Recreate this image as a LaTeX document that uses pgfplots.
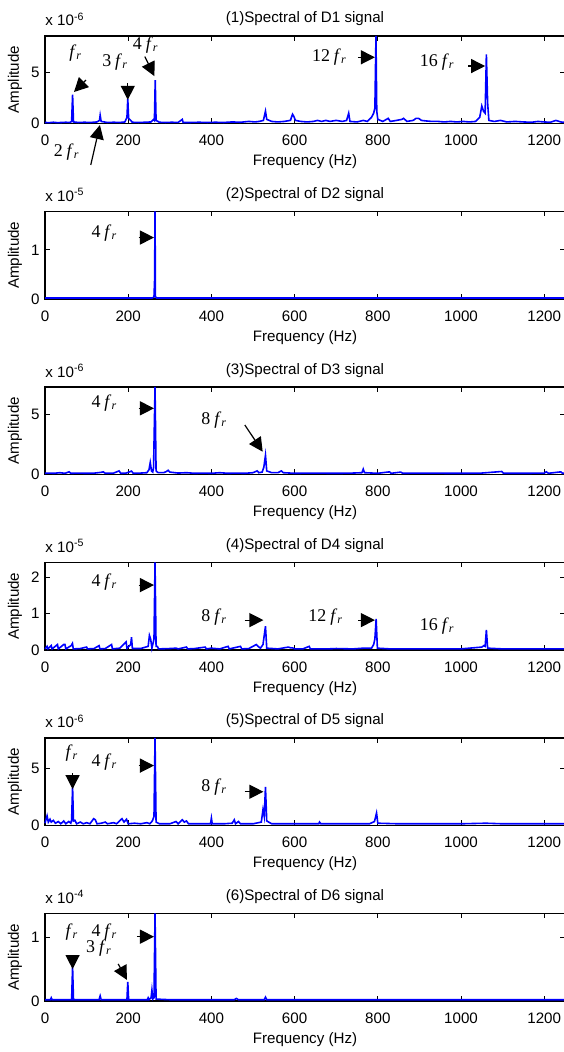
\documentclass[border=0pt]{standalone}
\usepackage{fontspec}
\setmainfont{Liberation Sans}
\newfontfamily\tnr{Liberation Serif}
\usepackage{pgfplots}
\pgfplotsset{compat=1.18}
\usetikzlibrary{arrows.meta}

\newcommand{\fr}[1]{{\fontsize{9}{10}\tnr #1\hspace{0.22em}\textit{f}\textsubscript{\textit{r}}}}
\newcommand{\frr}{{\fontsize{9}{10}\tnr \textit{f}\textsubscript{\textit{r}}}}

\pgfplotsset{
  spec/.style={
    scale only axis, width=260bp, height=43.75bp,
    anchor=south west,
    xmin=0, xmax=1250, ymin=0,
    xtick={0,200,...,1200},
    tick align=inside, major tick length=2.5bp,
    axis line style={line width=0.6bp},
    every tick/.style={black, line width=0.5bp},
    tick label style={font=\fontsize{7.6}{8.5}\selectfont},
    /pgf/number format/assume math mode=true,
    /pgf/number format/1000 sep={},
    xticklabel style={anchor=base, yshift=-11.1bp},
    yticklabel style={anchor=east, inner sep=0pt, xshift=-2.5bp},
    clip=false,
  },
  sig/.style={color={rgb,255:red,0;green,0;blue,255}, line width=0.8bp, no marks},
}
\tikzset{
  ttl/.style={anchor=base, yshift=6.5bp, inner sep=0pt, font=\fontsize{7.6}{8.5}\selectfont},
  expo/.style={anchor=base west, yshift=5bp, inner sep=0pt, font=\fontsize{7.6}{8.5}\selectfont},
  xlab/.style={anchor=base, yshift=-21.1bp, inner sep=0pt, font=\fontsize{7.6}{8.5}\selectfont},
  ylab/.style={rotate=90, anchor=center, inner sep=0pt, font=\fontsize{7.6}{8.5}\selectfont},
  ann/.style={anchor=center, inner sep=0pt},
  arr/.style={-{Triangle[length=7bp,width=7bp]}, line width=0.6bp, black},
}

\begin{document}
\begin{tikzpicture}

% ---------- Panel 1 ----------
\begin{axis}[spec, at={(22.5bp,464.25bp)}, ymax=8.5, ytick={0,5}]
\addplot[sig] coordinates {(0,0.1) (10,0.08) (20,0.12) (30,0.08) (40,0.1) (50,0.12) (60,0.1) (64,0.2) (66.3,2.8) (68.5,0.15) (80,0.1) (95,0.12) (110,0.1) (125,0.15) (131,0.3) (132.6,0.8) (135,0.2) (150,0.1) (165,0.12) (180,0.1) (192,0.15) (197,0.6) (199,2.4) (201,0.5) (210,0.12) (225,0.1) (240,0.12) (255,0.15) (261,0.4) (263,0.3) (265,4.2) (267,0.3) (275,0.12) (290,0.1) (305,0.12) (320,0.1) (330,0.4) (332,0.1) (350,0.1) (370,0.12) (390,0.1) (410,0.12) (430,0.1) (450,0.15) (470,0.12) (490,0.2) (505,0.15) (515,0.2) (525,0.3) (530,1.2) (533,0.4) (545,0.2) (560,0.15) (575,0.2) (590,0.3) (595,0.9) (598,0.7) (602,0.3) (615,0.2) (630,0.15) (645,0.2) (655,0.3) (665,0.2) (675,0.3) (685,0.2) (700,0.3) (715,0.2) (725,0.3) (730,1.0) (733,0.2) (750,0.15) (765,0.3) (775,0.2) (785,0.6) (790,1.0) (793,1.5) (795.6,8.5) (797.5,1.2) (800,0.4) (812,0.2) (825,0.5) (830,0.2) (845,0.3) (858,0.4) (862,0.5) (870,0.2) (885,0.3) (892,0.5) (898,0.5) (905,0.3) (915,0.25) (930,0.2) (945,0.2) (960,0.15) (975,0.2) (990,0.15) (1005,0.2) (1020,0.15) (1035,0.2) (1045,0.6) (1050,1.7) (1054,1.2) (1058,1.0) (1061,6.7) (1064,2.0) (1067,0.3) (1080,0.2) (1095,0.3) (1110,0.15) (1130,0.2) (1150,0.15) (1170,0.12) (1185,0.2) (1200,0.15) (1215,0.12) (1228,0.3) (1240,0.15) (1250,0.1)};
\node[ttl] at (rel axis cs:0.5,1) {(1)Spectral of D1 signal};
\node[expo] at (rel axis cs:0,1) {x 10\textsuperscript{-6}};
\node[ylab] at ([xshift=-15bp]rel axis cs:0,0.5) {Amplitude};
\node[xlab] at (rel axis cs:0.5,0) {Frequency (Hz)};
\node[ann] at (axis cs:74,6.85) {\frr};
\draw[arr] (axis cs:98.5,4.22) -- (axis cs:69.7,3.06);
\node[ann] at (axis cs:52,-2.77) {\fr{2}};
\draw[arr] (axis cs:110,-4.03) -- (axis cs:132,-0.15);
\node[ann] at (axis cs:168.6,6.0) {\fr{3}};
\draw[arr] (axis cs:199,3.9) -- (axis cs:199,2.3);
\node[ann] at (axis cs:242,7.62) {\fr{4}};
\draw[arr] (axis cs:240,6.5) -- (axis cs:263,4.6);
\node[ann] at (axis cs:683.6,6.49) {\fr{12}};
\draw[arr] (axis cs:752,6.43) -- (axis cs:793,6.43);
\node[ann] at (axis cs:943,6.0) {\fr{16}};
\draw[arr] (axis cs:1018,5.58) -- (axis cs:1058,5.58);
\end{axis}

% ---------- Panel 2 ----------
\begin{axis}[spec, at={(22.5bp,376.5bp)}, ymax=1.78, ytick={0,1}]
\addplot[sig] coordinates {(0,0.02) (100,0.02) (200,0.02) (258,0.02) (262,0.04) (263.5,0.4) (264.5,1.78) (265.5,0.05) (268,0.02) (400,0.02) (600,0.02) (800,0.02) (1000,0.02) (1250,0.02)};
\node[ttl] at (rel axis cs:0.5,1) {(2)Spectral of D2 signal};
\node[expo] at (rel axis cs:0,1) {x 10\textsuperscript{-5}};
\node[ylab] at ([xshift=-15bp]rel axis cs:0,0.5) {Amplitude};
\node[xlab] at (rel axis cs:0.5,0) {Frequency (Hz)};
\node[ann] at (axis cs:142.7,1.336) {\fr{4}};
\draw[arr] (axis cs:224.8,1.25) -- (axis cs:262,1.25);
\end{axis}

% ---------- Panel 3 ----------
\begin{axis}[spec, at={(22.5bp,288.75bp)}, ymax=7.3, ytick={0,5}]
\addplot[sig] coordinates {(0,0.1) (10,0.12) (22,0.1) (35,0.15) (48,0.1) (58,0.22) (62,0.1) (80,0.12) (100,0.1) (120,0.12) (135,0.18) (140,0.22) (145,0.1) (165,0.12) (178,0.3) (182,0.1) (195,0.12) (208,0.28) (212,0.1) (230,0.12) (245,0.15) (250,0.4) (253,1.0) (256,0.3) (259,0.2) (261,0.6) (264.5,7.3) (267,0.3) (272,0.15) (285,0.15) (292,0.25) (296,0.35) (300,0.2) (320,0.12) (340,0.15) (360,0.1) (380,0.12) (400,0.1) (420,0.15) (440,0.1) (460,0.12) (480,0.1) (500,0.15) (510,0.3) (514,0.15) (522,0.2) (526,0.6) (530,1.6) (533,0.3) (545,0.15) (560,0.15) (568,0.3) (573,0.15) (600,0.1) (640,0.12) (700,0.1) (740,0.12) (762,0.15) (765,0.45) (768,0.15) (800,0.1) (828,0.22) (832,0.1) (855,0.2) (860,0.1) (900,0.12) (1000,0.1) (1050,0.12) (1098,0.25) (1102,0.1) (1150,0.1) (1200,0.12) (1205,0.22) (1210,0.1) (1240,0.22) (1244,0.1) (1250,0.1)};
\node[ttl] at (rel axis cs:0.5,1) {(3)Spectral of D3 signal};
\node[expo] at (rel axis cs:0,1) {x 10\textsuperscript{-6}};
\node[ylab] at ([xshift=-15bp]rel axis cs:0,0.5) {Amplitude};
\node[xlab] at (rel axis cs:0.5,0) {Frequency (Hz)};
\node[ann] at (axis cs:142.7,5.94) {\fr{4}};
\draw[arr] (axis cs:224.8,5.52) -- (axis cs:262,5.52);
\node[ann] at (axis cs:406.7,4.55) {\fr{8}};
\draw[arr] (axis cs:480.4,4.13) -- (axis cs:523.3,1.9);
\end{axis}

% ---------- Panel 4 ----------
\begin{axis}[spec, at={(22.5bp,201bp)}, ymax=2.4, ytick={0,1,2}]
\addplot[sig] coordinates {(0,0.03) (5,0.1) (7,0.03) (15,0.12) (17,0.03) (30,0.15) (32,0.03) (45,0.15) (48,0.15) (50,0.03) (63,0.12) (66,0.18) (68,0.03) (85,0.04) (100,0.08) (102,0.03) (118,0.04) (130,0.12) (132,0.03) (145,0.04) (160,0.15) (162,0.03) (180,0.05) (195,0.22) (197,0.05) (206,0.15) (208,0.35) (210,0.04) (230,0.04) (248,0.1) (251,0.4) (254,0.3) (257,0.05) (262,0.3) (264.5,2.4) (267,0.1) (270,0.1) (273,0.03) (300,0.04) (315,0.05) (320,0.03) (340,0.08) (343,0.03) (360,0.04) (385,0.08) (388,0.03) (400,0.05) (420,0.03) (440,0.1) (443,0.03) (470,0.1) (473,0.03) (490,0.04) (508,0.15) (512,0.1) (518,0.05) (524,0.15) (530,0.65) (533,0.05) (560,0.03) (585,0.08) (590,0.06) (595,0.06) (600,0.03) (620,0.03) (635,0.1) (638,0.03) (680,0.03) (700,0.04) (740,0.03) (765,0.05) (785,0.05) (790,0.15) (793,0.3) (796,0.85) (799,0.05) (830,0.03) (900,0.03) (1000,0.03) (1050,0.08) (1055,0.12) (1058,0.1) (1061,0.55) (1064,0.05) (1100,0.03) (1200,0.03) (1250,0.03)};
\node[ttl] at (rel axis cs:0.5,1) {(4)Spectral of D4 signal};
\node[expo] at (rel axis cs:0,1) {x 10\textsuperscript{-5}};
\node[ylab] at ([xshift=-15bp]rel axis cs:0,0.5) {Amplitude};
\node[xlab] at (rel axis cs:0.5,0) {Frequency (Hz)};
\node[ann] at (axis cs:142.7,1.87) {\fr{4}};
\draw[arr] (axis cs:224.8,1.78) -- (axis cs:262,1.78);
\node[ann] at (axis cs:406.7,0.91) {\fr{8}};
\draw[arr] (axis cs:480,0.82) -- (axis cs:525,0.82);
\node[ann] at (axis cs:675,0.91) {\fr{12}};
\draw[arr] (axis cs:752.8,0.82) -- (axis cs:793,0.82);
\node[ann] at (axis cs:943,0.66) {\fr{16}};
\end{axis}

% ---------- Panel 5 ----------
\begin{axis}[spec, at={(22.5bp,113.25bp)}, ymax=7.7, ytick={0,5}]
\addplot[sig] coordinates {(0,0.2) (3,0.6) (5,0.85) (8,0.3) (12,0.55) (15,0.3) (20,0.45) (25,0.2) (32,0.35) (38,0.15) (45,0.4) (50,0.15) (57,0.35) (62,0.2) (64,0.5) (66.3,3.4) (68.5,0.4) (72,0.45) (76,0.15) (85,0.3) (92,0.15) (100,0.25) (108,0.15) (117,0.6) (121,0.5) (125,0.15) (135,0.2) (145,0.3) (150,0.15) (165,0.25) (172,0.15) (185,0.6) (190,0.3) (196,0.55) (200,0.15) (215,0.2) (230,0.15) (245,0.25) (252,0.15) (258,0.4) (262,0.8) (264.5,7.7) (267,0.3) (275,0.15) (300,0.15) (315,0.35) (320,0.15) (330,0.5) (335,0.3) (340,0.4) (345,0.15) (370,0.15) (398,0.15) (400,0.65) (402,0.15) (430,0.15) (450,0.2) (455,0.5) (458,0.15) (465,0.35) (470,0.15) (500,0.15) (520,0.3) (524,1.4) (527,0.8) (530,3.4) (533,0.4) (540,0.25) (545,0.15) (600,0.15) (658,0.15) (660,0.3) (663,0.15) (700,0.15) (780,0.15) (792,0.35) (797,1.1) (800,0.2) (850,0.15) (900,0.15) (1000,0.15) (1060,0.2) (1100,0.15) (1250,0.15)};
\node[ttl] at (rel axis cs:0.5,1) {(5)Spectral of D5 signal};
\node[expo] at (rel axis cs:0,1) {x 10\textsuperscript{-6}};
\node[ylab] at ([xshift=-15bp]rel axis cs:0,0.5) {Amplitude};
\node[xlab] at (rel axis cs:0.5,0) {Frequency (Hz)};
\node[ann] at (axis cs:64.9,6.35) {\frr};
\draw[arr] (axis cs:66.3,4.59) -- (axis cs:66.3,3.2);
\node[ann] at (axis cs:142.7,5.61) {\fr{4}};
\draw[arr] (axis cs:224.8,5.27) -- (axis cs:262,5.27);
\node[ann] at (axis cs:406.7,3.36) {\fr{8}};
\draw[arr] (axis cs:480,2.97) -- (axis cs:525,2.97);
\end{axis}

% ---------- Panel 6 ----------
\begin{axis}[spec, at={(22.5bp,25.5bp)}, ymax=1.37, ytick={0,1}]
\addplot[sig] coordinates {(0,0.02) (13,0.02) (15,0.05) (17,0.02) (40,0.02) (64,0.02) (66.3,0.54) (68.5,0.02) (100,0.02) (130,0.02) (132.6,0.08) (135,0.02) (170,0.02) (197,0.02) (199,0.30) (201,0.02) (230,0.02) (246,0.02) (248,0.05) (250,0.02) (255,0.05) (257,0.17) (259,0.03) (262,0.05) (264.5,1.37) (267,0.03) (300,0.02) (400,0.02) (455,0.02) (460,0.04) (465,0.02) (527,0.02) (530,0.06) (533,0.02) (700,0.02) (900,0.02) (1100,0.02) (1250,0.02)};
\node[ttl] at (rel axis cs:0.5,1) {(6)Spectral of D6 signal};
\node[expo] at (rel axis cs:0,1) {x 10\textsuperscript{-4}};
\node[ylab] at ([xshift=-15bp]rel axis cs:0,0.5) {Amplitude};
\node[xlab] at (rel axis cs:0.5,0) {Frequency (Hz)};
\node[ann] at (axis cs:64.9,1.085) {\frr};
\draw[arr] (axis cs:66.3,0.72) -- (axis cs:66.3,0.5);
\node[ann] at (axis cs:142.7,1.085) {\fr{4}};
\node[ann] at (axis cs:129.7,0.825) {\fr{3}};
\draw[arr] (axis cs:176,0.58) -- (axis cs:197,0.33);
\draw[arr] (axis cs:220.7,1.007) -- (axis cs:262,1.007);
\end{axis}

\pgfresetboundingbox
\path[use as bounding box] (0,0) rectangle (282bp,526bp);
\end{tikzpicture}
\end{document}
